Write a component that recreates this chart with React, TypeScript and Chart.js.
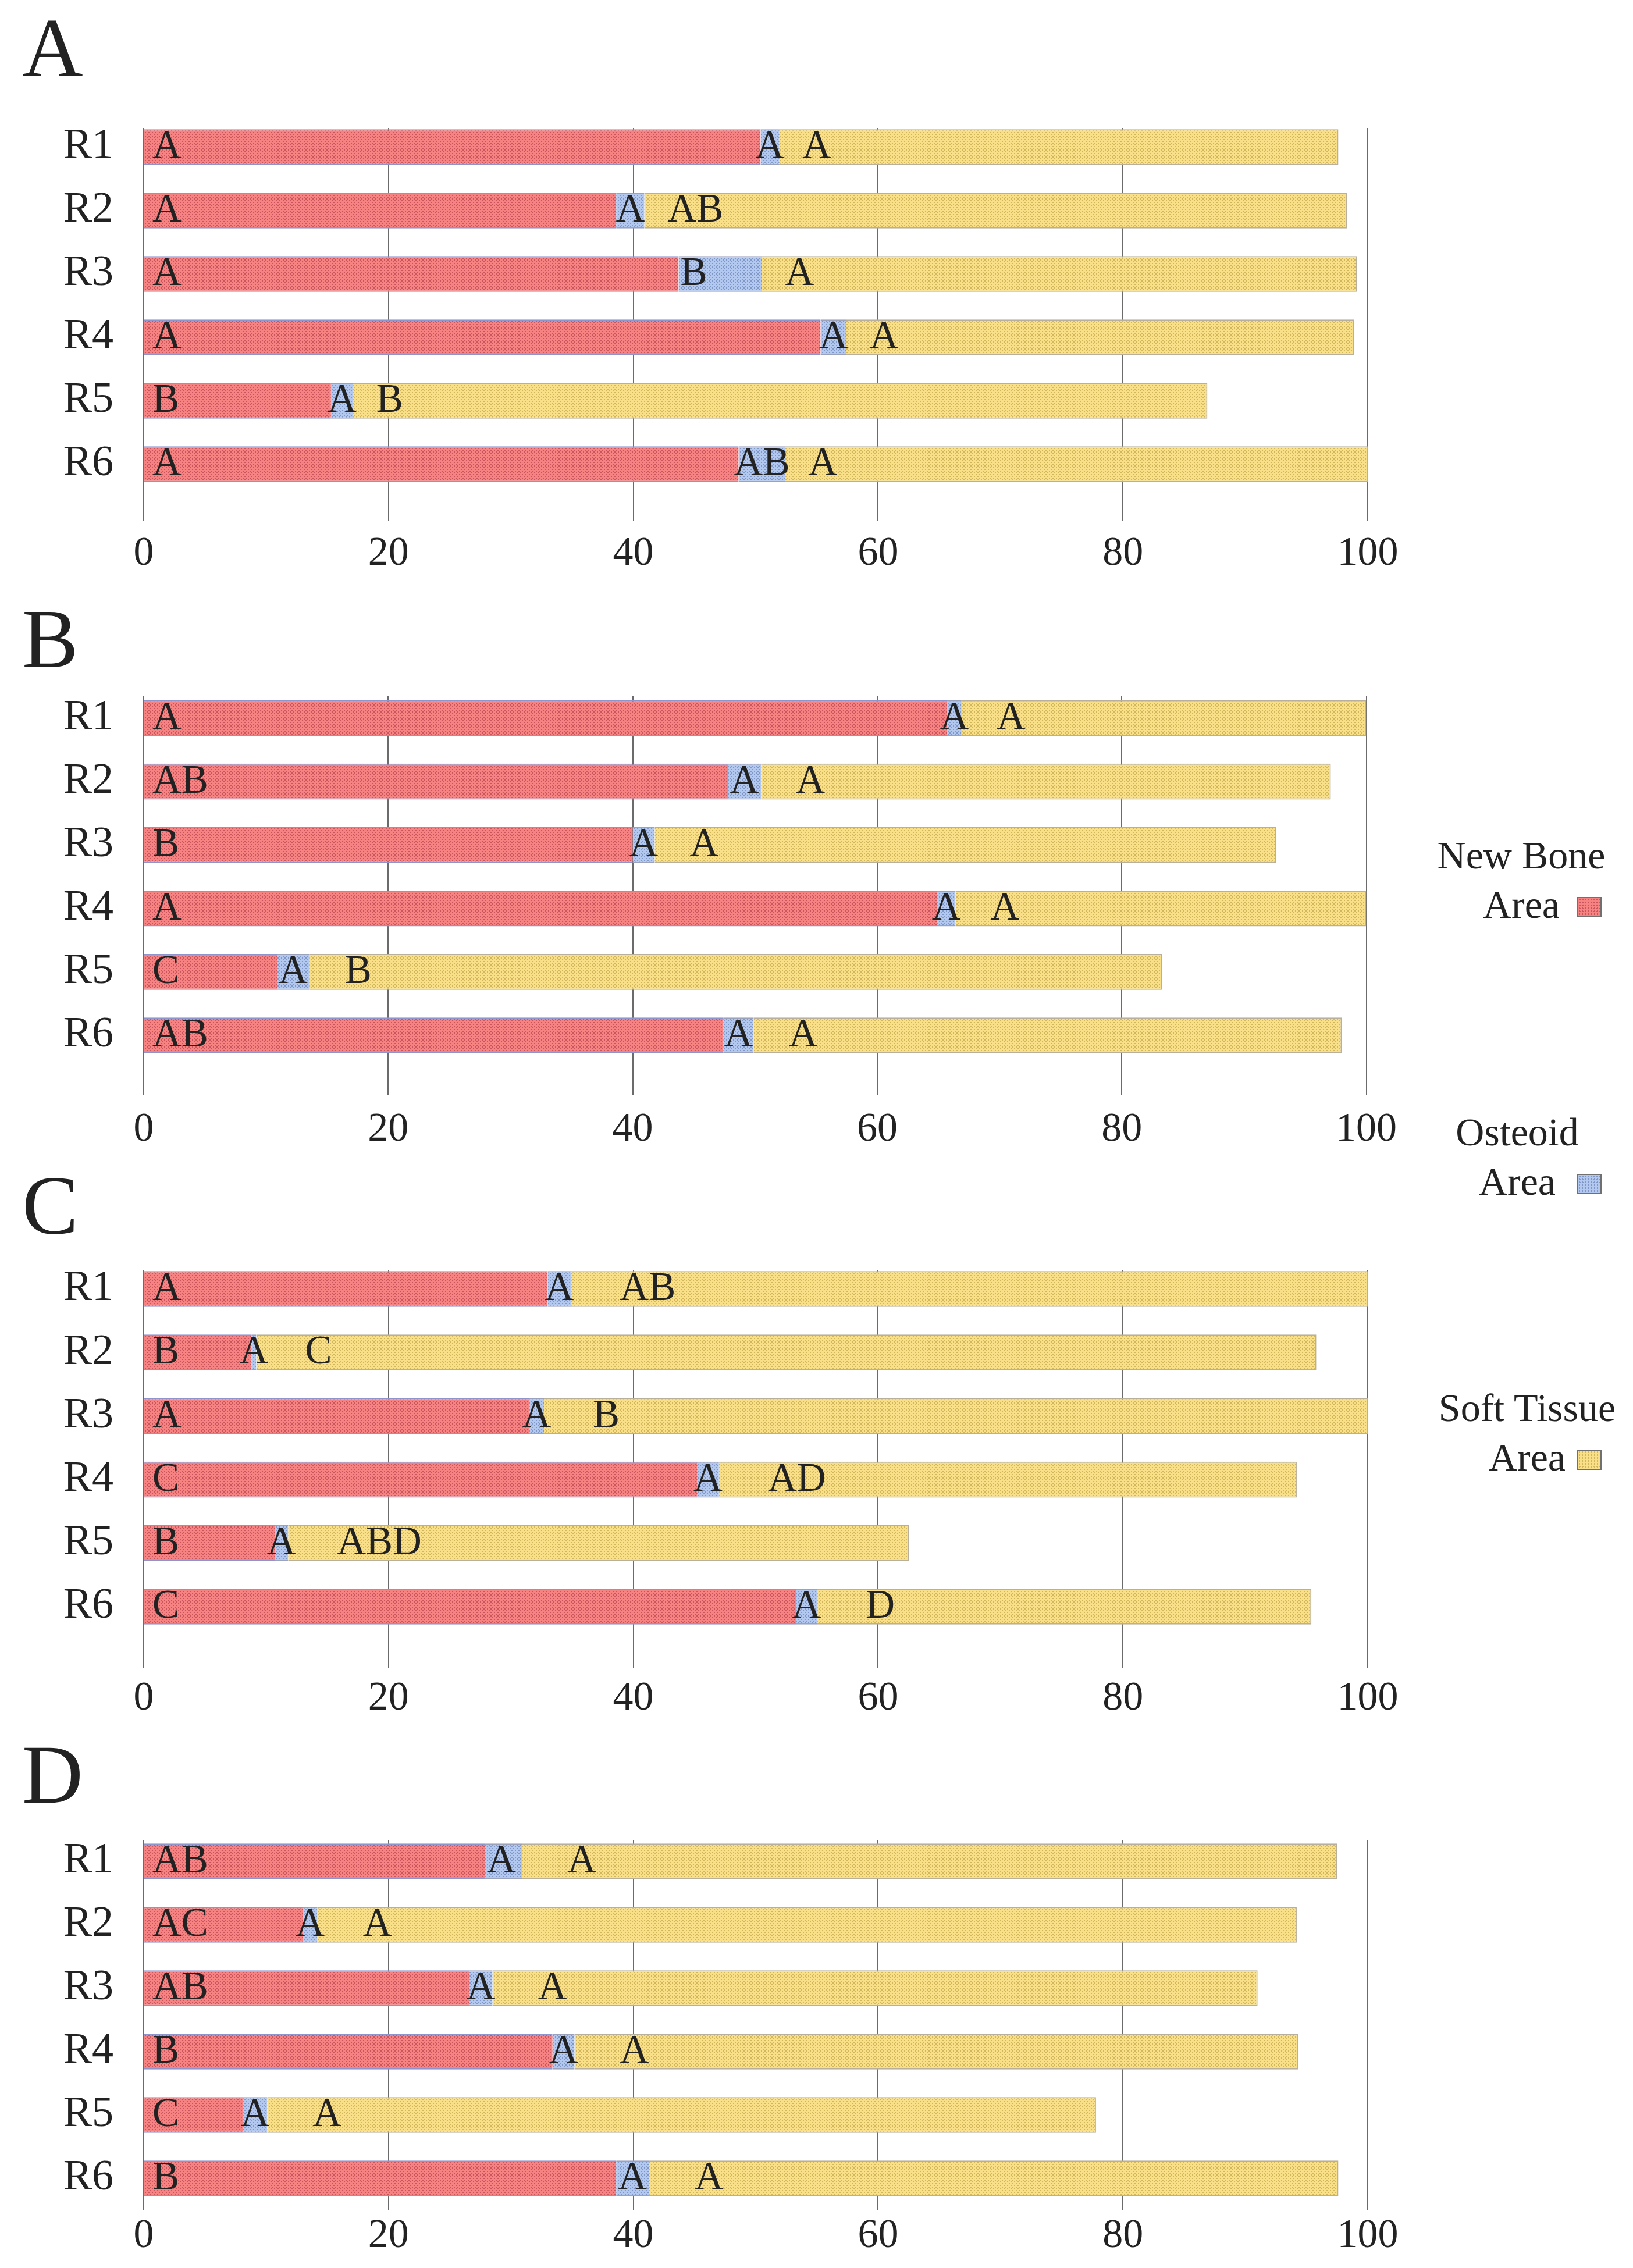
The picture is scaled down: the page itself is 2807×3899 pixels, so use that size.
import React, { useEffect, useRef } from 'react';
import { Chart, registerables } from 'chart.js';

Chart.register(...registerables);

// ---------- data ----------
const categories = ['R1', 'R2', 'R3', 'R4', 'R5', 'R6'];
const seriesNames = ['New Bone Area', 'Osteoid Area', 'Soft Tissue Area'];
const panelTitles = ['A', 'B', 'C', 'D'];
const axisMin = 0;
const axisMax = 100;
const axisStep = 20;

// Panel A
const newBoneA = [50.4, 38.6, 43.7, 55.3, 15.3, 48.6];
const osteoidA = [1.5, 2.3, 6.8, 2.1, 1.8, 3.8];
const softTissueA = [45.7, 57.4, 48.6, 41.5, 69.8, 47.6];
const newBoneLettersA = ['A', 'A', 'A', 'A', 'B', 'A'];
const osteoidLettersA = ['A', 'A', 'B', 'A', 'A', 'AB'];
const softTissueLettersA = ['A', 'AB', 'A', 'A', 'B', 'A'];

// Panel B
const newBoneB = [65.7, 47.8, 40.0, 64.9, 10.9, 47.4];
const osteoidB = [1.2, 2.7, 1.8, 1.5, 2.7, 2.5];
const softTissueB = [33.1, 46.6, 50.8, 33.6, 69.7, 48.1];
const newBoneLettersB = ['A', 'AB', 'B', 'A', 'C', 'AB'];
const osteoidLettersB = ['A', 'A', 'A', 'A', 'A', 'A'];
const softTissueLettersB = ['A', 'A', 'A', 'A', 'B', 'A'];

// Panel C
const newBoneC = [33.0, 8.8, 31.5, 45.2, 10.7, 53.3];
const osteoidC = [1.9, 0.4, 1.2, 1.8, 1.1, 1.7];
const softTissueC = [65.1, 86.6, 67.3, 47.2, 50.7, 40.4];
const newBoneLettersC = ['A', 'B', 'A', 'C', 'B', 'C'];
const osteoidLettersC = ['A', 'A', 'A', 'A', 'A', 'A'];
const softTissueLettersC = ['AB', 'C', 'B', 'AD', 'ABD', 'D'];

// Panel D
const newBoneD = [27.9, 13.0, 26.6, 33.4, 8.1, 38.6];
const osteoidD = [3.0, 1.2, 1.9, 1.8, 2.0, 2.7];
const softTissueD = [66.6, 80.0, 62.5, 59.1, 67.7, 56.3];
const newBoneLettersD = ['AB', 'AC', 'AB', 'B', 'C', 'B'];
const osteoidLettersD = ['A', 'A', 'A', 'A', 'A', 'A'];
const softTissueLettersD = ['A', 'A', 'A', 'A', 'A', 'A'];

const panelData = [
  { title: panelTitles[0], values: [newBoneA, osteoidA, softTissueA], letters: [newBoneLettersA, osteoidLettersA, softTissueLettersA] },
  { title: panelTitles[1], values: [newBoneB, osteoidB, softTissueB], letters: [newBoneLettersB, osteoidLettersB, softTissueLettersB] },
  { title: panelTitles[2], values: [newBoneC, osteoidC, softTissueC], letters: [newBoneLettersC, osteoidLettersC, softTissueLettersC] },
  { title: panelTitles[3], values: [newBoneD, osteoidD, softTissueD], letters: [newBoneLettersD, osteoidLettersD, softTissueLettersD] },
];

// ---------- layout & style ----------
const FONT = '"Liberation Serif", "Times New Roman", serif';
const TEXT = '#222222';
const PAGE_W = 2807;
const PAGE_H = 3899;
const CANVAS_W = 2420;
const PLOT_LEFT = 247;
const PLOT_RIGHT = 2351;
const TOP_ROOM = 125;

const panelLayout = [
  { titleCapTop: 35, bandTop: 198.5, bandBottom: 852.5, gridTop: 220, gridBottom: 896, labelTop: 929, softGap: 40 },
  { titleCapTop: 1051, bandTop: 1180, bandBottom: 1834.5, gridTop: 1197, gridBottom: 1882, labelTop: 1919, softGap: 60 },
  { titleCapTop: 2025, bandTop: 2161.4, bandBottom: 2816.6, gridTop: 2183, gridBottom: 2867, labelTop: 2897, softGap: 84 },
  { titleCapTop: 3003, bandTop: 3145.5, bandBottom: 3799.5, gridTop: 3164, gridBottom: 3799, labelTop: 3820, softGap: 78 },
];

const seriesStyle = [
  { base: '#F68282', dot: '#C8565C', border: '#8F94CC', bw: { top: 2, bottom: 2, left: 0, right: 0 } },
  { base: '#B2C8EE', dot: '#8098C8', border: '#9AA2BE', bw: { top: 2, bottom: 2, left: 0, right: 0 } },
  { base: '#F9E088', dot: '#D2B65C', border: '#B8B09A', bw: { top: 2, bottom: 2, left: 0, right: 2 } },
];

const legendLayout = [
  { capTop: 1448, center: 2615 },
  { capTop: 1924, center: 2608 },
  { capTop: 2398, center: 2625 },
];

function makePattern(base: string, dot: string): CanvasPattern | string {
  const c = document.createElement('canvas');
  c.width = 6;
  c.height = 6;
  const g = c.getContext('2d');
  if (!g) return base;
  g.fillStyle = base;
  g.fillRect(0, 0, 6, 6);
  g.fillStyle = dot;
  g.fillRect(0, 0, 2, 2);
  g.fillRect(3, 3, 2, 2);
  return g.createPattern(c, 'repeat') || base;
}

function Panel({ index }: { index: number }) {
  const ref = useRef<HTMLCanvasElement | null>(null);
  const L = panelLayout[index];
  const D = panelData[index];
  const canvasTop = Math.round(L.bandTop) - TOP_ROOM;
  const canvasH = Math.min(PAGE_H - canvasTop, Math.round(L.labelTop + 78 - canvasTop));

  useEffect(() => {
    const canvas = ref.current;
    if (!canvas) return;
    const padTop = L.bandTop - canvasTop;
    const xAxisH = canvasH - (L.bandBottom - canvasTop);
    const tl = Math.max(0, L.gridBottom - L.bandBottom);
    const tickFont = 70;
    const tickPad = Math.max(0, L.labelTop + 24 - L.gridBottom - 0.6 * tickFont);

    const clearTop = {
      id: 'clearTop',
      beforeDatasetsDraw(chart: any) {
        const a = chart.chartArea;
        const ctx = chart.ctx;
        ctx.save();
        ctx.fillStyle = '#ffffff';
        ctx.fillRect(a.left - 4, a.top - 2, a.right - a.left + 8, L.gridTop - L.bandTop + 2);
        ctx.restore();
      },
    };

    const barLetters = {
      id: 'barLetters',
      afterDatasetsDraw(chart: any) {
        const ctx = chart.ctx;
        ctx.save();
        ctx.font = `69px ${FONT}`;
        ctx.fillStyle = TEXT;
        ctx.textBaseline = 'middle';
        ctx.textAlign = 'left';
        chart.data.datasets.forEach((ds: any, di: number) => {
          const meta = chart.getDatasetMeta(di);
          meta.data.forEach((el: any, i: number) => {
            const p = el.getProps(['x', 'base', 'y'], true);
            const text = ds.letters[i];
            if (!text) return;
            const w = ctx.measureText(text).width;
            const start = Math.min(p.x, p.base);
            const end = Math.max(p.x, p.base);
            let left: number;
            if (di === 0) left = Math.min(start + 14, (start + end) / 2 - w / 2);
            else if (di === 1) left = Math.min(start + 3, (start + end) / 2 - w / 2);
            else left = start + L.softGap;
            ctx.fillText(text, left, p.y + 1);
          });
        });
        ctx.restore();
      },
    };

    const datasets = D.values.map((vals, si) => ({
      label: seriesNames[si],
      data: vals,
      letters: D.letters[si],
      backgroundColor: makePattern(seriesStyle[si].base, seriesStyle[si].dot),
      borderColor: seriesStyle[si].border,
      borderWidth: seriesStyle[si].bw,
      borderSkipped: false,
      barPercentage: 0.565,
      categoryPercentage: 1,
    }));

    const chart = new Chart(canvas, {
      type: 'bar',
      data: { labels: categories, datasets: datasets as any },
      options: {
        indexAxis: 'y',
        responsive: false,
        maintainAspectRatio: false,
        animation: false,
        layout: { padding: { top: padTop, left: 0, right: CANVAS_W - PLOT_RIGHT, bottom: 0 } },
        plugins: {
          legend: { display: false },
          tooltip: { enabled: false },
          title: { display: false },
        },
        scales: {
          x: {
            stacked: true,
            min: axisMin,
            max: axisMax,
            ticks: {
              stepSize: axisStep,
              font: { family: FONT, size: tickFont },
              color: TEXT,
              padding: tickPad,
              maxRotation: 0,
            },
            grid: {
              color: '#6b6b6b',
              lineWidth: 2,
              drawTicks: tl > 0.5,
              tickLength: tl,
              tickColor: '#6b6b6b',
              tickWidth: 2,
            },
            border: { display: false },
            afterFit: (s: any) => {
              s.height = xAxisH;
            },
          },
          y: {
            stacked: true,
            ticks: {
              font: { family: FONT, size: 74 },
              color: TEXT,
              padding: PLOT_LEFT - 195,
            },
            grid: { display: false, drawTicks: false },
            border: { display: false },
            afterFit: (s: any) => {
              s.width = PLOT_LEFT;
            },
          },
        },
      } as any,
      plugins: [clearTop, barLetters],
    });
    return () => chart.destroy();
  }, [index]);

  const titleFont = 145;
  return (
    <>
      <div
        style={{
          position: 'absolute',
          left: 38,
          top: L.titleCapTop - 0.1755 * titleFont,
          fontSize: titleFont,
          lineHeight: `${titleFont}px`,
          fontFamily: FONT,
          color: TEXT,
          whiteSpace: 'nowrap',
        }}
      >
        {D.title}
      </div>
      <canvas
        ref={ref}
        width={CANVAS_W}
        height={canvasH}
        style={{ position: 'absolute', left: 0, top: canvasTop, width: CANVAS_W, height: canvasH }}
      />
    </>
  );
}

function Legend() {
  const fs = 68;
  const lh = 85;
  const capOffset = (lh - fs * 1.107) / 2 + 0.891 * fs - 0.662 * fs;
  return (
    <>
      {seriesNames.map((name, i) => {
        const words = name.split(' ');
        const line2 = words.pop() as string;
        const line1 = words.join(' ');
        const L = legendLayout[i];
        const st = seriesStyle[i];
        return (
          <React.Fragment key={name}>
            <div
              style={{
                position: 'absolute',
                left: L.center - 250,
                width: 500,
                top: L.capTop - capOffset,
                fontFamily: FONT,
                fontSize: fs,
                lineHeight: `${lh}px`,
                color: TEXT,
                textAlign: 'center',
                whiteSpace: 'nowrap',
              }}
            >
              <div>{line1}</div>
              <div>{line2}</div>
            </div>
            <div
              style={{
                position: 'absolute',
                left: 2711,
                top: L.capTop + lh + 9,
                width: 42,
                height: 35,
                boxSizing: 'border-box',
                border: '2px solid #707070',
                backgroundColor: st.base,
                backgroundImage: `radial-gradient(${st.dot} 1.1px, transparent 1.4px)`,
                backgroundSize: '5px 5px',
              }}
            />
          </React.Fragment>
        );
      })}
    </>
  );
}

export default function App() {
  useEffect(() => {
    document.body.style.margin = '0';
  }, []);
  return (
    <div
      style={{
        position: 'absolute',
        left: 0,
        top: 0,
        width: PAGE_W,
        height: PAGE_H,
        background: '#ffffff',
        overflow: 'hidden',
      }}
    >
      {panelData.map((_, i) => (
        <Panel key={i} index={i} />
      ))}
      <Legend />
    </div>
  );
}
